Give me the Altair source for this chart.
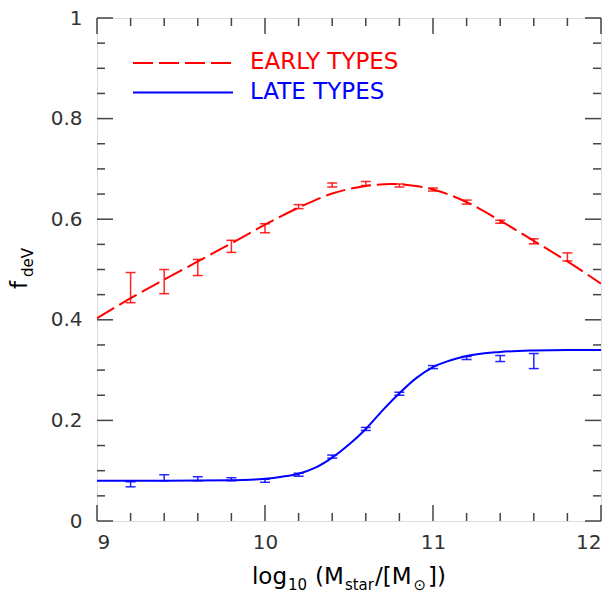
import altair as alt
import pandas as pd

# ---------------- data ----------------
x_pts = [9.2, 9.4, 9.6, 9.8, 10.0, 10.2, 10.4, 10.6, 10.8, 11.0, 11.2, 11.4, 11.6, 11.8]
early_y = [0.464, 0.476, 0.504, 0.546, 0.582, 0.625, 0.668, 0.671, 0.667, 0.659, 0.634, 0.595, 0.556, 0.525]
early_err = [0.030, 0.024, 0.016, 0.012, 0.009, 0.004, 0.004, 0.004, 0.003, 0.003, 0.004, 0.003, 0.005, 0.008]

x_late = [9.2, 9.4, 9.6, 9.8, 10.0, 10.2, 10.4, 10.6, 10.8, 11.0, 11.2, 11.4, 11.6]
late_y = [0.073, 0.086, 0.084, 0.083, 0.080, 0.092, 0.128, 0.183, 0.253, 0.306, 0.324, 0.323, 0.318]
late_err = [0.005, 0.006, 0.004, 0.003, 0.003, 0.003, 0.003, 0.003, 0.003, 0.003, 0.003, 0.006, 0.015]

early_curve_x = [9.0, 9.2, 9.4, 9.6, 9.8, 10.0, 10.2, 10.4, 10.6, 10.75, 10.9, 11.0, 11.2, 11.4, 11.6, 11.8, 12.0]
early_curve_y = [0.403, 0.443, 0.480, 0.516, 0.552, 0.589, 0.623, 0.651, 0.666, 0.670, 0.666, 0.659, 0.634, 0.597, 0.557, 0.516, 0.472]

late_curve_x = [9.0, 9.4, 9.8, 10.0, 10.1, 10.2, 10.3, 10.4, 10.5, 10.6, 10.7, 10.8, 10.9, 11.0, 11.1, 11.2, 11.4, 11.6, 11.8, 12.0]
late_curve_y = [0.080, 0.080, 0.081, 0.084, 0.088, 0.094, 0.106, 0.126, 0.152, 0.183, 0.220, 0.254, 0.284, 0.306, 0.319, 0.328, 0.336, 0.339, 0.340, 0.340]

x_major = [9, 10, 11, 12]
x_minor = [9.2, 9.4, 9.6, 9.8, 10.2, 10.4, 10.6, 10.8, 11.2, 11.4, 11.6, 11.8]
y_major = [0, 0.2, 0.4, 0.6, 0.8, 1.0]
y_minor = [0.05, 0.1, 0.15, 0.25, 0.3, 0.35, 0.45, 0.5, 0.55, 0.65, 0.7, 0.75, 0.85, 0.9, 0.95]

legend_labels = ["EARLY TYPES", "LATE TYPES"]

# ---------------- layout / style ----------------
W, H = 504, 503
FONT = "DejaVu Sans"
TICK_COLOR = "#444"
MAJ, MIN = 16, 8

xs = alt.Scale(domain=[9, 12], nice=False, zero=False)
ys = alt.Scale(domain=[0, 1], nice=False, zero=True)

x_axis = alt.Axis(values=x_major, format="d", title=None, ticks=False, domain=False, grid=False,
                  labelFont=FONT, labelFontSize=20, labelColor="#333", labelPadding=11)
y_axis = alt.Axis(values=y_major, title=None, ticks=False, domain=False, grid=False,
                  labelFont=FONT, labelFontSize=20, labelColor="#333", labelPadding=15,
                  labelExpr="datum.value == 0 ? '0' : datum.value == 1 ? '1' : format(datum.value, '.1f')",
                  minExtent=89, maxExtent=89)

early_df = pd.DataFrame({"x": x_pts, "y": early_y,
                         "lo": [a - b for a, b in zip(early_y, early_err)],
                         "hi": [a + b for a, b in zip(early_y, early_err)]})
late_df = pd.DataFrame({"x": x_late, "y": late_y,
                        "lo": [a - b for a, b in zip(late_y, late_err)],
                        "hi": [a + b for a, b in zip(late_y, late_err)]})

early_line = alt.Chart(pd.DataFrame({"x": early_curve_x, "y": early_curve_y})).mark_line(
    color="red", strokeWidth=2, strokeDash=[20, 6], interpolate="monotone", clip=True
).encode(x=alt.X("x:Q", scale=xs, axis=x_axis), y=alt.Y("y:Q", scale=ys, axis=y_axis))

late_line = alt.Chart(pd.DataFrame({"x": late_curve_x, "y": late_curve_y})).mark_line(
    color="blue", strokeWidth=2, interpolate="monotone", clip=True
).encode(x=alt.X("x:Q", scale=xs), y=alt.Y("y:Q", scale=ys))


def errbars(df, color):
    vert = alt.Chart(df).mark_rule(color=color, strokeWidth=1.5, opacity=0.85).encode(
        x=alt.X("x:Q", scale=xs), y=alt.Y("lo:Q", scale=ys), y2="hi:Q")
    cap_lo = alt.Chart(df).mark_tick(color=color, orient="horizontal", size=10, thickness=1.5, opacity=0.85).encode(
        x=alt.X("x:Q", scale=xs), y=alt.Y("lo:Q", scale=ys))
    cap_hi = alt.Chart(df).mark_tick(color=color, orient="horizontal", size=10, thickness=1.5, opacity=0.85).encode(
        x=alt.X("x:Q", scale=xs), y=alt.Y("hi:Q", scale=ys))
    return [vert, cap_lo, cap_hi]


def xticks(vals, length):
    d = pd.DataFrame({"v": vals})
    bottom = alt.Chart(d).mark_rule(color=TICK_COLOR, strokeWidth=1.5).encode(
        x=alt.X("v:Q", scale=xs), y=alt.value(H), y2=alt.value(H - length))
    top = alt.Chart(d).mark_rule(color=TICK_COLOR, strokeWidth=1.5).encode(
        x=alt.X("v:Q", scale=xs), y=alt.value(0), y2=alt.value(length))
    return [bottom, top]


def yticks(vals, length):
    d = pd.DataFrame({"v": vals})
    left = alt.Chart(d).mark_rule(color=TICK_COLOR, strokeWidth=1.5).encode(
        y=alt.Y("v:Q", scale=ys), x=alt.value(0), x2=alt.value(length))
    right = alt.Chart(d).mark_rule(color=TICK_COLOR, strokeWidth=1.5).encode(
        y=alt.Y("v:Q", scale=ys), x=alt.value(W), x2=alt.value(W - length))
    return [left, right]


one = pd.DataFrame({"a": [0]})


def text(txt, x, y, size, color="black", angle=0):
    return alt.Chart(one).mark_text(
        text=txt, fontSize=size, font=FONT, color=color, align="left",
        baseline="alphabetic", angle=angle
    ).encode(x=alt.value(x), y=alt.value(y))


# x-axis title with subscripts: (text, is_subscript, gap before in px)
segments = [("log", False, 0), ("10", True, 1), ("(M", False, 8), ("star", True, 1),
            ("/[M", False, 1), ("\u2299", True, 2), ("])", False, 2)]
ADV = {"l": 569, "o": 1255, "g": 1300, "(": 799, ")": 799, "M": 1767, "/": 690,
       "[": 799, "]": 799, "s": 1067, "t": 803, "a": 1255, "r": 842, "1": 1303, "0": 1303,
       "\u2299": 1716}
MAIN, SUB = 23, 15
widths = [g + sum(ADV.get(c, 1200) for c in s) / 2048 * (SUB if sub else MAIN) for s, sub, g in segments]
xpos = W / 2 - sum(widths) / 2
title_layers = []
for (s, sub, g), w in zip(segments, widths):
    title_layers.append(text(s, xpos + g, 566 + (6 if sub else 0), SUB if sub else MAIN))
    xpos += w

ytitle = [text("f", -70, 271, 23, angle=270), text("deV", -64, 259, 15, angle=270)]

legend = [
    alt.Chart(one).mark_rule(color="red", strokeWidth=2, strokeDash=[20, 6]).encode(
        x=alt.value(36), x2=alt.value(136), y=alt.value(45)),
    alt.Chart(one).mark_rule(color="blue", strokeWidth=2).encode(
        x=alt.value(36), x2=alt.value(136), y=alt.value(74.6)),
    text(legend_labels[0], 153, 50.6, 23, color="red"),
    text(legend_labels[1], 153, 80.6, 23, color="blue"),
]

layers = [early_line, late_line] + errbars(early_df, "red") + errbars(late_df, "blue")
layers += xticks(x_major, MAJ) + xticks(x_minor, MIN) + yticks(y_major, MAJ) + yticks(y_minor, MIN)
layers += legend + title_layers + ytitle

chart = alt.layer(*layers).properties(
    width=W, height=H,
    padding={"left": 0, "top": 0, "right": 0, "bottom": 0}
).configure_view(stroke="black", strokeWidth=2).configure(background="white")

chart.save("out.html", embed_options={"renderer": "svg", "actions": False})
